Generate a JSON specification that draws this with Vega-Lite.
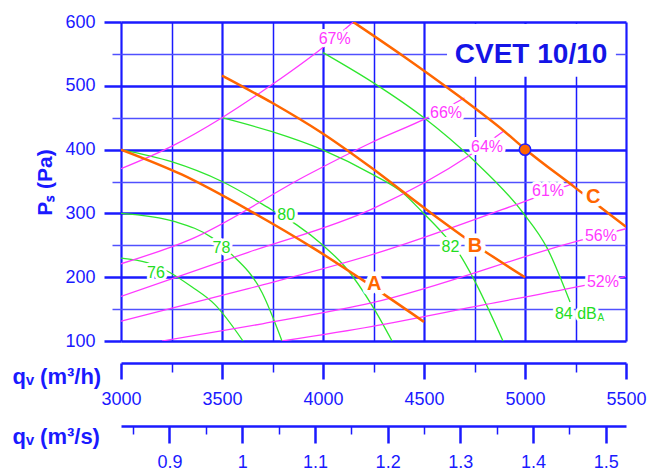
{
  "$schema": "https://vega.github.io/schema/vega-lite/v6.json",
  "autosize": "none",
  "padding": {"left": 121, "top": 22, "right": 23, "bottom": 129},
  "width": 505,
  "height": 319,
  "background": "white",
  "config": {
    "view": {"stroke": null},
    "font": "Liberation Sans",
    "text": {"font": "Liberation Sans"},
    "axis": {"labelFont": "Liberation Sans", "titleFont": "Liberation Sans"}
  },
  "datasets": {
    "fan": [
      {"s": "A", "q": 3000, "p": 400}, {"s": "A", "q": 3300, "p": 361}, {"s": "A", "q": 3650, "p": 302}, {"s": "A", "q": 3950, "p": 246}, {"s": "A", "q": 4208, "p": 193}, {"s": "A", "q": 4500, "p": 130},
      {"s": "B", "q": 3500, "p": 516}, {"s": "B", "q": 3750, "p": 473}, {"s": "B", "q": 3995, "p": 426}, {"s": "B", "q": 4233, "p": 373}, {"s": "B", "q": 4495, "p": 310}, {"s": "B", "q": 4752, "p": 251}, {"s": "B", "q": 5000, "p": 200},
      {"s": "C", "q": 4150, "p": 600}, {"s": "C", "q": 4400, "p": 546}, {"s": "C", "q": 4650, "p": 489}, {"s": "C", "q": 4900, "p": 428}, {"s": "C", "q": 5000, "p": 401}, {"s": "C", "q": 5250, "p": 340}, {"s": "C", "q": 5500, "p": 279}
    ],
    "eff": [
      {"s": "67", "q": 3000, "p": 370}, {"s": "67", "q": 3250, "p": 405}, {"s": "67", "q": 3500, "p": 450}, {"s": "67", "q": 3748, "p": 502}, {"s": "67", "q": 3995, "p": 559}, {"s": "67", "q": 4150, "p": 600},
      {"s": "66", "q": 3000, "p": 221}, {"s": "66", "q": 3342, "p": 259}, {"s": "66", "q": 3927, "p": 361}, {"s": "66", "q": 4233, "p": 410}, {"s": "66", "q": 4530, "p": 452}, {"s": "66", "q": 4700, "p": 481},
      {"s": "64", "q": 3000, "p": 170}, {"s": "64", "q": 3630, "p": 239}, {"s": "64", "q": 4250, "p": 308}, {"s": "64", "q": 4730, "p": 392}, {"s": "64", "q": 4895, "p": 429},
      {"s": "61", "q": 3000, "p": 131}, {"s": "61", "q": 3630, "p": 182}, {"s": "61", "q": 4250, "p": 236}, {"s": "61", "q": 5000, "p": 319}, {"s": "61", "q": 5240, "p": 347},
      {"s": "56", "q": 3203, "p": 100}, {"s": "56", "q": 3700, "p": 127}, {"s": "56", "q": 4245, "p": 160}, {"s": "56", "q": 5287, "p": 259}, {"s": "56", "q": 5500, "p": 276},
      {"s": "52", "q": 3797, "p": 100}, {"s": "52", "q": 4245, "p": 123}, {"s": "52", "q": 4800, "p": 157}, {"s": "52", "q": 5307, "p": 188}, {"s": "52", "q": 5500, "p": 201}
    ],
    "noise": [
      {"s": "76", "q": 3000, "p": 230}, {"s": "76", "q": 3129, "p": 223}, {"s": "76", "q": 3233, "p": 209}, {"s": "76", "q": 3350, "p": 185}, {"s": "76", "q": 3465, "p": 157}, {"s": "76", "q": 3604, "p": 100},
      {"s": "78", "q": 3000, "p": 300}, {"s": "78", "q": 3267, "p": 287}, {"s": "78", "q": 3450, "p": 262}, {"s": "78", "q": 3540, "p": 238}, {"s": "78", "q": 3698, "p": 176}, {"s": "78", "q": 3797, "p": 100},
      {"s": "80", "q": 3000, "p": 400}, {"s": "80", "q": 3250, "p": 381}, {"s": "80", "q": 3500, "p": 350}, {"s": "80", "q": 3750, "p": 305}, {"s": "80", "q": 3870, "p": 282}, {"s": "80", "q": 4000, "p": 250}, {"s": "80", "q": 4110, "p": 216}, {"s": "80", "q": 4250, "p": 152}, {"s": "80", "q": 4342, "p": 100},
      {"s": "82", "q": 3500, "p": 450}, {"s": "82", "q": 3748, "p": 428}, {"s": "82", "q": 3995, "p": 400}, {"s": "82", "q": 4240, "p": 362}, {"s": "82", "q": 4396, "p": 332}, {"s": "82", "q": 4495, "p": 301}, {"s": "82", "q": 4589, "p": 270}, {"s": "82", "q": 4678, "p": 235}, {"s": "82", "q": 4743, "p": 199}, {"s": "82", "q": 4891, "p": 100},
      {"s": "84", "q": 4000, "p": 552}, {"s": "84", "q": 4248, "p": 505}, {"s": "84", "q": 4495, "p": 451}, {"s": "84", "q": 4743, "p": 384}, {"s": "84", "q": 4990, "p": 301}, {"s": "84", "q": 5109, "p": 246}, {"s": "84", "q": 5223, "p": 161}
    ],
    "effLabels": [
      {"t": "67%", "q": 4058, "p": 566}, {"t": "66%", "q": 4609, "p": 450}, {"t": "64%", "q": 4812, "p": 396},
      {"t": "61%", "q": 5114, "p": 328}, {"t": "56%", "q": 5376, "p": 256}, {"t": "52%", "q": 5386, "p": 185}
    ],
    "noiseLabels": [
      {"t": "76", "q": 3173, "p": 199}, {"t": "78", "q": 3497, "p": 238}, {"t": "80", "q": 3818, "p": 290}, {"t": "82", "q": 4631, "p": 239}
    ],
    "fanLabels": [
      {"t": "A", "q": 4253, "p": 180}, {"t": "B", "q": 4752, "p": 239}, {"t": "C", "q": 5338, "p": 316}
    ]
  },
  "resolve": {"scale": {"x": "independent"}},
  "layer": [
    {
      "encoding": {
        "x": {
          "field": "q", "type": "quantitative",
          "scale": {"domain": [3000, 5500], "nice": false, "zero": false},
          "axis": {
            "orient": "bottom", "offset": 22,
            "values": [3000, 3250, 3500, 3750, 4000, 4250, 4500, 4750, 5000, 5250, 5500],
            "format": "d",
            "labelExpr": "datum.value % 500 === 0 ? datum.label : ''",
            "labelFlush": false, "labelOverlap": false,
            "labelFontSize": 18, "labelColor": "#1a1aff", "labelPadding": 11.5, "labelBaseline": "top",
            "tickSize": {"condition": {"test": "datum.value % 500 === 0", "value": 16}, "value": 9},
            "tickWidth": {"condition": {"test": "datum.value % 500 === 0", "value": 2.5}, "value": 1.5},
            "tickColor": "#1a1aff",
            "domainColor": "#1a1aff", "domainWidth": 2.5,
            "grid": true, "gridColor": "#1a1aff",
            "gridWidth": {"condition": {"test": "datum.value % 500 === 0", "value": 2.2}, "value": 1.5},
            "title": "qᵥ (m³/h)", "titleFontSize": 22, "titleFontWeight": "bold", "titleColor": "#1a1aff",
            "titleAngle": 0, "titleAlign": "left", "titleBaseline": "alphabetic", "titleX": -109, "titleY": 20
          }
        },
        "y": {
          "field": "p", "type": "quantitative",
          "scale": {"domain": [100, 600], "nice": false, "zero": false},
          "axis": {
            "values": [100, 150, 200, 250, 300, 350, 400, 450, 500, 550, 600],
            "format": "d",
            "labelExpr": "datum.value % 100 === 0 ? datum.label : ''",
            "labelFlush": false, "labelOverlap": false,
            "labelFontSize": 18, "labelColor": "#1a1aff", "labelPadding": 9,
            "tickSize": {"condition": {"test": "datum.value % 100 === 0", "value": 17}, "value": 9},
            "tickWidth": {"condition": {"test": "datum.value % 100 === 0", "value": 2.5}, "value": 1.5},
            "tickColor": {"condition": {"test": "datum.value % 100 === 0", "value": "#1a1aff"}, "value": "#5050ff"},
            "domain": false,
            "grid": true,
            "gridColor": {"condition": {"test": "datum.value % 100 === 0", "value": "#1a1aff"}, "value": "#5050ff"},
            "gridWidth": {"condition": {"test": "datum.value % 100 === 0", "value": 2.5}, "value": 1.5},
            "title": "Pₛ (Pa)", "titleFontSize": 21, "titleFontWeight": "bold", "titleColor": "#1a1aff",
            "titleAngle": 270, "titleAlign": "center", "titleBaseline": "alphabetic", "titleX": -70, "titleY": 160
          }
        }
      },
      "layer": [
        {
          "data": {"values": [{"q": 4614, "q2": 5450, "p": 514, "p2": 597}]},
          "mark": {"type": "rect", "fill": "white", "stroke": null},
          "encoding": {"x2": {"field": "q2"}, "y2": {"field": "p2"}}
        },
        {
          "data": {"name": "noise"},
          "mark": {"type": "line", "interpolate": "monotone", "stroke": "#2ee62e", "strokeWidth": 1.3, "clip": true},
          "encoding": {"detail": {"field": "s"}}
        },
        {
          "data": {"name": "eff"},
          "mark": {"type": "line", "interpolate": "monotone", "stroke": "#ff38ff", "strokeWidth": 1.3, "clip": true},
          "encoding": {"detail": {"field": "s"}}
        },
        {
          "data": {"name": "fan"},
          "mark": {"type": "line", "interpolate": "monotone", "stroke": "#ff6600", "strokeWidth": 2.5, "clip": true},
          "encoding": {"detail": {"field": "s"}}
        },
        {
          "data": {"values": [{"q": 5000, "p": 400}]},
          "mark": {"type": "circle", "fill": "#ff6600", "stroke": "#2020ff", "strokeWidth": 1.5, "size": 130, "opacity": 1, "fillOpacity": 1}
        },
        {
          "data": {"name": "effLabels"},
          "mark": {"type": "text", "fontSize": 16, "align": "center", "baseline": "alphabetic", "fill": "white", "stroke": "white", "strokeWidth": 6, "strokeJoin": "round"},
          "encoding": {"text": {"field": "t"}}
        },
        {
          "data": {"name": "noiseLabels"},
          "mark": {"type": "text", "fontSize": 16, "align": "center", "baseline": "alphabetic", "fill": "white", "stroke": "white", "strokeWidth": 6, "strokeJoin": "round"},
          "encoding": {"text": {"field": "t"}}
        },
        {
          "data": {"values": [{"t": "84 dB", "q": 5355, "p": 135}]},
          "mark": {"type": "text", "fontSize": 16, "align": "right", "baseline": "alphabetic", "fill": "white", "stroke": "white", "strokeWidth": 6, "strokeJoin": "round"},
          "encoding": {"text": {"field": "t"}}
        },
        {
          "data": {"name": "fanLabels"},
          "mark": {"type": "text", "fontSize": 20, "fontWeight": "bold", "align": "center", "baseline": "alphabetic", "fill": "white", "stroke": "white", "strokeWidth": 9, "strokeJoin": "round"},
          "encoding": {"text": {"field": "t"}}
        },
        {
          "data": {"name": "effLabels"},
          "mark": {"type": "text", "fontSize": 16, "align": "center", "baseline": "alphabetic", "fill": "#ff38ff"},
          "encoding": {"text": {"field": "t"}}
        },
        {
          "data": {"name": "noiseLabels"},
          "mark": {"type": "text", "fontSize": 16, "align": "center", "baseline": "alphabetic", "fill": "#22dd22"},
          "encoding": {"text": {"field": "t"}}
        },
        {
          "data": {"values": [{"t": "84 dB", "q": 5355, "p": 135}]},
          "mark": {"type": "text", "fontSize": 16, "align": "right", "baseline": "alphabetic", "fill": "#22dd22"},
          "encoding": {"text": {"field": "t"}}
        },
        {
          "data": {"values": [{"t": "A", "q": 5359, "p": 130.7}]},
          "mark": {"type": "text", "fontSize": 10, "align": "left", "baseline": "alphabetic", "fill": "#22dd22"},
          "encoding": {"text": {"field": "t"}}
        },
        {
          "data": {"name": "fanLabels"},
          "mark": {"type": "text", "fontSize": 20, "fontWeight": "bold", "align": "center", "baseline": "alphabetic", "fill": "#ff6600"},
          "encoding": {"text": {"field": "t"}}
        },
        {
          "data": {"values": [{"t": "CVET 10/10", "q": 5030, "p": 535.7}]},
          "mark": {"type": "text", "fontSize": 28, "fontWeight": "bold", "align": "center", "baseline": "alphabetic", "fill": "#1414e6"},
          "encoding": {"text": {"field": "t"}}
        }
      ]
    },
    {
      "data": {"values": [{"s": 1.0}]},
      "mark": {"type": "point", "opacity": 0},
      "encoding": {
        "x": {
          "field": "s", "type": "quantitative",
          "scale": {"domain": [0.8333333, 1.5277778], "nice": false, "zero": false},
          "axis": {
            "orient": "bottom", "offset": 85,
            "values": [0.85, 0.9, 0.95, 1, 1.05, 1.1, 1.15, 1.2, 1.25, 1.3, 1.35, 1.4, 1.45, 1.5],
            "labelExpr": "round(datum.value * 100) % 10 === 0 ? format(datum.value, '~g') : ''",
            "labelFlush": false, "labelOverlap": false,
            "labelFontSize": 18, "labelColor": "#1a1aff", "labelPadding": 10, "labelBaseline": "top",
            "tickSize": {"condition": {"test": "round(datum.value * 100) % 10 === 0", "value": 17}, "value": 8},
            "tickWidth": {"condition": {"test": "round(datum.value * 100) % 10 === 0", "value": 2.5}, "value": 1.5},
            "tickColor": "#1a1aff",
            "domainColor": "#1a1aff", "domainWidth": 2.5,
            "grid": false,
            "title": "qᵥ (m³/s)", "titleFontSize": 22, "titleFontWeight": "bold", "titleColor": "#1a1aff",
            "titleAngle": 0, "titleAlign": "left", "titleBaseline": "alphabetic", "titleX": -109, "titleY": 17
          }
        }
      }
    }
  ]
}
